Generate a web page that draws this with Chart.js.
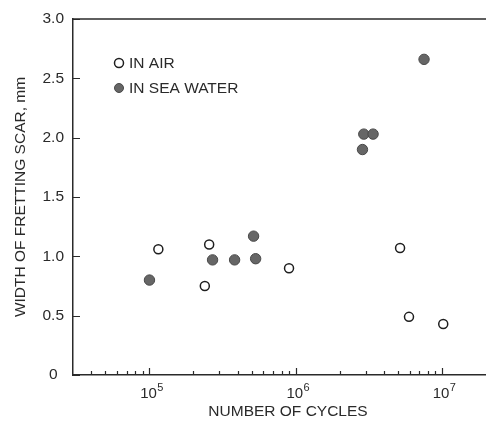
<!DOCTYPE html>
<html>
<head>
<meta charset="utf-8">
<script src="https://cdn.jsdelivr.net/npm/chart.js@4.4.0/dist/chart.umd.min.js"></script>
<style>
  html, body { margin: 0; padding: 0; background: #fff; }
  #wrap { width: 486px; height: 423px; }
</style>
</head>
<body>
<div id="wrap"><canvas id="scar-chart" width="486" height="423"></canvas></div>
<script>
// values (cycles, scar width in mm)
const airCycles = [1.15e5, 2.39e5, 2.56e5, 9.0e5, 5.17e6, 5.95e6, 1.02e7];
const airWidth = [1.06, 0.75, 1.10, 0.90, 1.07, 0.49, 0.43];
const seaCycles = [1.0e5, 2.7e5, 3.82e5, 5.15e5, 5.32e5, 2.86e6, 2.92e6, 3.38e6, 7.54e6];
const seaWidth = [0.80, 0.97, 0.97, 1.17, 0.98, 1.90, 2.03, 2.03, 2.66];
const seriesLabels = ['IN AIR', 'IN SEA WATER'];

const majorCycles = [1e5, 1e6, 1e7];
const minorCycles = [4e4, 5e4, 6e4, 7e4, 8e4, 9e4,
  2e5, 3e5, 4e5, 5e5, 6e5, 7e5, 8e5, 9e5,
  2e6, 3e6, 4e6, 5e6, 6e6, 7e6, 8e6, 9e6];
const widthTicks = [0, 0.5, 1.0, 1.5, 2.0, 2.5, 3.0];
const xTitle = 'NUMBER OF CYCLES';
const yTitle = 'WIDTH OF FRETTING SCAR, mm';

const ink = '#2a2a2a';
const family = '"Liberation Sans", Arial, sans-serif';
const font = { family: family, size: 15.5 };

function toPoints(xs, ys) {
  return xs.map((x, i) => ({ x: x, y: ys[i] }));
}

// inward tick marks, top frame line, power-of-ten labels, x title and the key
const framePlugin = {
  id: 'frame',
  afterDatasetsDraw(chart) {
    const ctx = chart.ctx;
    const area = chart.chartArea;
    const xs = chart.scales.x, ys = chart.scales.y;
    ctx.save();
    ctx.strokeStyle = ink;
    ctx.lineWidth = 1.2;
    ctx.beginPath();
    majorCycles.forEach(v => {
      const px = Math.round(xs.getPixelForValue(v)) + 0.5;
      ctx.moveTo(px, area.bottom);
      ctx.lineTo(px, area.bottom - 7);
    });
    minorCycles.forEach(v => {
      const px = Math.round(xs.getPixelForValue(v)) + 0.5;
      ctx.moveTo(px, area.bottom);
      ctx.lineTo(px, area.bottom - 4);
    });
    widthTicks.forEach(v => {
      const py = Math.round(ys.getPixelForValue(v)) + 0.5;
      ctx.moveTo(area.left, py);
      ctx.lineTo(area.left + 7, py);
    });
    ctx.stroke();

    ctx.lineWidth = 1.5;
    ctx.beginPath();
    ctx.moveTo(area.left - 1, area.top);
    ctx.lineTo(area.right, area.top);
    ctx.stroke();

    // 10^n labels
    ctx.fillStyle = ink;
    ctx.textBaseline = 'alphabetic';
    majorCycles.forEach(v => {
      const px = xs.getPixelForValue(v);
      const exp = String(Math.round(Math.log10(v)));
      ctx.font = '15px ' + family;
      ctx.textAlign = 'center';
      ctx.fillText('10', px - 1, area.bottom + 23);
      const w = ctx.measureText('10').width;
      ctx.font = '11px ' + family;
      ctx.textAlign = 'left';
      ctx.fillText(exp, px - 1 + w / 2 + 0.5, area.bottom + 16);
    });

    // x title
    ctx.font = font.size + 'px ' + family;
    ctx.textAlign = 'center';
    ctx.textBaseline = 'middle';
    ctx.fillText(xTitle, 288, area.bottom + 37);

    // key
    const kx = area.left + 46, ky = area.top + 44;
    chart.data.datasets.forEach((ds, i) => {
      const y = ky + i * 25;
      ctx.beginPath();
      ctx.arc(kx, y, 4.5, 0, Math.PI * 2);
      ctx.fillStyle = ds.backgroundColor;
      ctx.fill();
      ctx.lineWidth = ds.borderWidth;
      ctx.strokeStyle = ds.borderColor;
      ctx.stroke();
      ctx.fillStyle = ink;
      ctx.font = font.size + 'px ' + family;
      ctx.textBaseline = 'middle';
      ctx.textAlign = 'left';
      ctx.fillText(ds.label, kx + 10, y + 1);
    });
    ctx.restore();
  }
};

const chart = new Chart(document.getElementById('scar-chart'), {
  type: 'scatter',
  data: {
    datasets: [
      {
        label: seriesLabels[0],
        data: toPoints(airCycles, airWidth),
        backgroundColor: '#ffffff',
        borderColor: '#1e1e1e',
        borderWidth: 1.5,
        pointRadius: 4.5
      },
      {
        label: seriesLabels[1],
        data: toPoints(seaCycles, seaWidth),
        backgroundColor: '#666666',
        borderColor: '#484848',
        borderWidth: 1,
        pointRadius: 5.2
      }
    ]
  },
  options: {
    responsive: false,
    animation: false,
    layout: { autoPadding: false, padding: { top: 19, right: 0, left: 0, bottom: 0 } },
    plugins: {
      legend: { display: false },
      tooltip: { enabled: false }
    },
    scales: {
      x: {
        type: 'logarithmic',
        min: 3e4,
        max: 2e7,
        afterBuildTicks: s => { s.ticks = majorCycles.map(v => ({ value: v })); },
        afterFit: s => { s.height = 48; s.paddingLeft = 0; s.paddingRight = 0; },
        grid: { display: false, drawTicks: false },
        border: { display: true, color: ink, width: 1.5 },
        ticks: { display: false }
      },
      y: {
        min: 0,
        max: 3,
        afterBuildTicks: s => { s.ticks = widthTicks.map(v => ({ value: v })); },
        afterFit: s => { s.width = 73; s.paddingTop = 0; s.paddingBottom = 0; },
        grid: { display: false, drawTicks: false },
        border: { display: true, color: ink, width: 1.5 },
        ticks: {
          crossAlign: 'center',
          padding: 9,
          color: ink,
          font: { family: family, size: 15.5 },
          callback: v => v === 0 ? '0' : v.toFixed(1)
        },
        title: {
          display: true,
          text: yTitle,
          color: ink,
          font: font,
          padding: { top: 11, bottom: 0 }
        }
      }
    }
  },
  plugins: [framePlugin]
});
</script>
</body>
</html>
